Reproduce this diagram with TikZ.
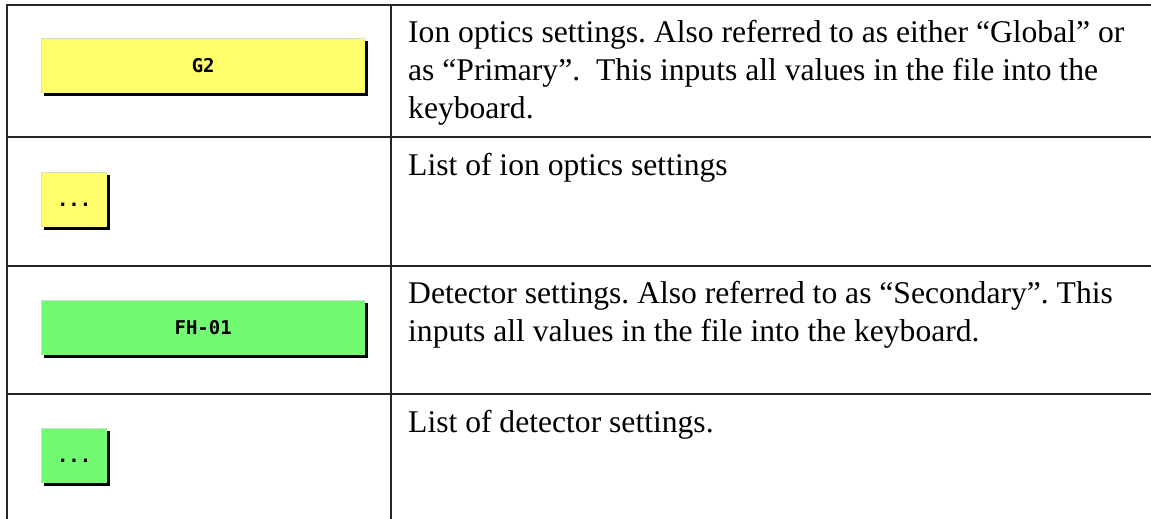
\documentclass[tikz,border=0pt]{standalone}
\usepackage{fontspec}
\setmainfont{Liberation Serif}
\newfontfamily\btnfont{DejaVu Sans Mono}
\usetikzlibrary{shadows}

\definecolor{optyellow}{RGB}{255,255,110}
\definecolor{detgreen}{RGB}{115,250,115}
\definecolor{btnedge}{RGB}{205,222,205}

\frenchspacing

\begin{document}
\begin{tikzpicture}[x=1pt,y=-1pt]

    \useasboundingbox (0,0) rectangle (1151,519);

    % table rules %
    \begin{scope}[line width=1.6pt, black!85]
        \draw (7,519) -- (7,5) -- (1151,5);
        \draw (391,5) -- (391,519);
        \foreach \y in {137,266,394}
            \draw (7,\y) -- (1151,\y);
    \end{scope}

    \begin{scope}[every node/.style={rectangle,anchor=north west,inner sep=0pt,minimum height=55pt,text height=13pt,text depth=0pt,font=\btnfont\bfseries\fontsize{19}{19}\selectfont,drop shadow={shadow xshift=3pt,shadow yshift=-3pt,fill=black,opacity=1},path picture={\draw[btnedge,line width=2pt] (path picture bounding box.south west) -- (path picture bounding box.north west) -- (path picture bounding box.north east);}}]
        \node[fill=optyellow,minimum width=324pt] (g2) at (41,38) {G2}; % Global button
        \node[fill=optyellow,minimum width=66pt] (g2list) at (41,172) {...};
        \node[fill=detgreen,minimum width=324pt] (fh01) at (41,300) {FH-01}; % Secondary button
        \node[fill=detgreen,minimum width=66pt] (fh01list) at (41,428) {...};
    \end{scope}

    % base anchor sits on the last line %
    \begin{scope}[every node/.style={anchor=base west,inner sep=0pt,align=left,font=\fontsize{31.6}{38}\selectfont}]
        \node (g2text) at (408,118) {Ion optics settings. Also referred to as either “Global” or\\as “Primary”.\ \ This inputs all values in the file into the\\keyboard.};
        \node (g2listtext) at (408,175) {List of ion optics settings};
        \node (fh01text) at (408,341) {Detector settings. Also referred to as “Secondary”. This\\inputs all values in the file into the keyboard.};
        \node (fh01listtext) at (408,432) {List of detector settings.};
    \end{scope}

\end{tikzpicture}
\end{document}
